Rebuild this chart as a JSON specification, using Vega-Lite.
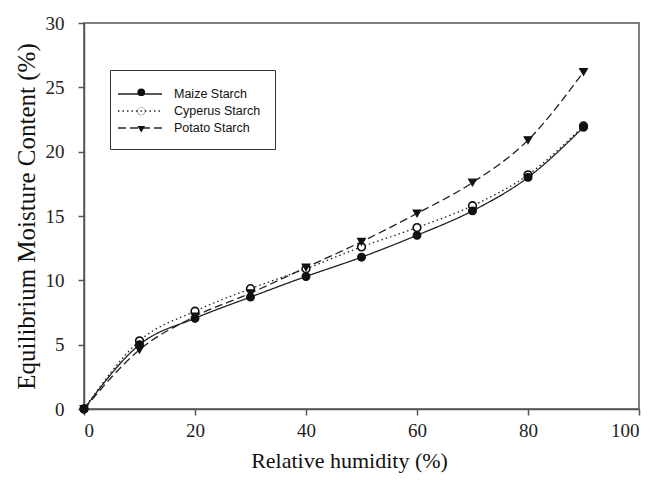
{
  "$schema": "https://vega.github.io/schema/vega-lite/v6.json",
  "width": 555,
  "height": 386,
  "autosize": {"type": "none"},
  "padding": {"left": 84, "top": 23, "right": 15, "bottom": 71},
  "background": "white",
  "config": {
    "view": {"stroke": "#555", "strokeWidth": 1.5},
    "axis": {
      "domainColor": "#555", "domainWidth": 1.5, "tickColor": "#555", "tickWidth": 1.5, "tickSize": 6,
      "grid": false, "labelFont": "Liberation Serif", "labelFontSize": 19, "labelColor": "#222",
      "titleFont": "Liberation Serif", "titleFontWeight": "normal", "titleColor": "#111"
    }
  },
  "data": {
    "values": [
      {"rh": 0, "emc": 0, "series": "Maize Starch", "mk": "m1"},
      {"rh": 10, "emc": 5.0, "series": "Maize Starch", "mk": "m1"},
      {"rh": 20, "emc": 7.05, "series": "Maize Starch", "mk": "m1"},
      {"rh": 30, "emc": 8.7, "series": "Maize Starch", "mk": "m1"},
      {"rh": 40, "emc": 10.3, "series": "Maize Starch", "mk": "m1"},
      {"rh": 50, "emc": 11.8, "series": "Maize Starch", "mk": "m1"},
      {"rh": 60, "emc": 13.5, "series": "Maize Starch", "mk": "m1"},
      {"rh": 70, "emc": 15.4, "series": "Maize Starch", "mk": "m1"},
      {"rh": 80, "emc": 18.0, "series": "Maize Starch", "mk": "m1"},
      {"rh": 90, "emc": 21.9, "series": "Maize Starch", "mk": "m1"},
      {"rh": 0, "emc": 0, "series": "Cyperus Starch", "mk": "m2"},
      {"rh": 10, "emc": 5.3, "series": "Cyperus Starch", "mk": "m2"},
      {"rh": 20, "emc": 7.6, "series": "Cyperus Starch", "mk": "m2"},
      {"rh": 30, "emc": 9.35, "series": "Cyperus Starch", "mk": "m2"},
      {"rh": 40, "emc": 10.9, "series": "Cyperus Starch", "mk": "m2"},
      {"rh": 50, "emc": 12.6, "series": "Cyperus Starch", "mk": "m2"},
      {"rh": 60, "emc": 14.1, "series": "Cyperus Starch", "mk": "m2"},
      {"rh": 70, "emc": 15.8, "series": "Cyperus Starch", "mk": "m2"},
      {"rh": 80, "emc": 18.2, "series": "Cyperus Starch", "mk": "m2"},
      {"rh": 90, "emc": 22.0, "series": "Cyperus Starch", "mk": "m2"},
      {"rh": 0, "emc": 0, "series": "Potato Starch", "mk": "m3"},
      {"rh": 10, "emc": 4.6, "series": "Potato Starch", "mk": "m3"},
      {"rh": 20, "emc": 7.2, "series": "Potato Starch", "mk": "m3"},
      {"rh": 30, "emc": 9.0, "series": "Potato Starch", "mk": "m3"},
      {"rh": 40, "emc": 11.0, "series": "Potato Starch", "mk": "m3"},
      {"rh": 50, "emc": 13.0, "series": "Potato Starch", "mk": "m3"},
      {"rh": 60, "emc": 15.2, "series": "Potato Starch", "mk": "m3"},
      {"rh": 70, "emc": 17.6, "series": "Potato Starch", "mk": "m3"},
      {"rh": 80, "emc": 20.9, "series": "Potato Starch", "mk": "m3"},
      {"rh": 90, "emc": 26.2, "series": "Potato Starch", "mk": "m3"}
    ]
  },
  "encoding": {
    "x": {"field": "rh", "type": "quantitative", "scale": {"domain": [0, 100]}, "axis": {"values": [0, 20, 40, 60, 80, 100], "title": "Relative humidity (%)", "titleFontSize": 22, "labelPadding": 6, "titlePadding": 10, "titleX": 265}},
    "y": {"field": "emc", "type": "quantitative", "scale": {"domain": [0, 30]}, "axis": {"values": [0, 5, 10, 15, 20, 25, 30], "title": "Equilibrium Moisture Content (%)", "titleFontSize": 25, "labelPadding": 14, "titlePadding": 6}}
  },
  "layer": [
    {
      "mark": {"type": "line", "interpolate": "monotone", "color": "#222", "strokeWidth": 1.3},
      "encoding": {
        "detail": {"field": "series"},
        "strokeDash": {
          "field": "series", "type": "nominal",
          "scale": {"domain": ["Maize Starch", "Cyperus Starch", "Potato Starch"], "range": [[1, 0], [1.5, 3], [8, 4]]},
          "legend": {
            "orient": "none", "legendX": 26, "legendY": 47, "title": null,
            "symbolType": "M-2.45,0H2.45", "symbolSize": 324, "symbolOffset": 6, "symbolStrokeColor": "#222", "symbolStrokeWidth": 1.5,
            "labelFont": "Liberation Sans", "labelFontSize": 12.5, "labelColor": "#111", "labelOffset": 24,
            "rowPadding": 0, "padding": 14, "strokeColor": "#333", "fillColor": "white"
          }
        }
      }
    },
    {
      "transform": [{"filter": "datum.mk == 'm2'"}],
      "mark": {"type": "point", "filled": true, "shape": "circle", "color": "white", "opacity": 1, "size": 60, "strokeWidth": 0}
    },
    {
      "mark": {"type": "point", "filled": true, "color": "#111", "opacity": 1, "strokeWidth": 1.2, "stroke": "#111"},
      "encoding": {
        "shape": {
          "field": "mk", "type": "nominal",
          "scale": {"domain": ["m1", "m2", "m3"], "range": ["circle", "M1.05,0A1.05,1.05 0 1,1 -1.05,0A1.05,1.05 0 1,1 1.05,0ZM0.95,0A0.95,0.95 0 1,0 -0.95,0A0.95,0.95 0 1,0 0.95,0Z", "triangle-down"]},
          "legend": {
            "orient": "none", "legendX": 37, "legendY": 49, "title": null,
            "symbolSize": 60, "symbolFillColor": "#111", "symbolStrokeColor": "#111", "symbolStrokeWidth": 1.2, "symbolOpacity": 1,
            "labelFont": "Liberation Sans", "labelFontSize": 12.5, "labelOpacity": 0, "labelOffset": 10,
            "rowPadding": 5, "padding": 14,
            "encode": {"symbols": {"update": {"fill": {"value": "#111"}, "stroke": {"value": "#111"}, "strokeWidth": {"value": 1.2}, "opacity": {"value": 1}}}}
          }
        },
        "size": {"value": 60}
      }
    }
  ]
}
